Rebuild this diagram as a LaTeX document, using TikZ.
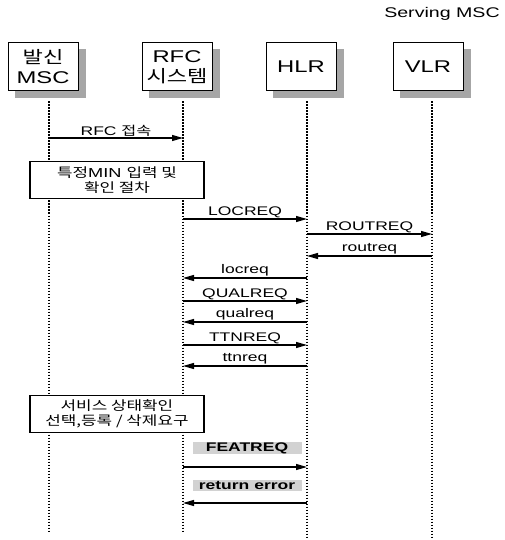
\documentclass[tikz,border=0pt]{standalone}
\usepackage{fontspec}
\setmainfont{Liberation Sans}[FakeStretch=1.4]
\newfontfamily\kr{Noto Sans CJK KR}[FakeStretch=1.3]
\usetikzlibrary{arrows.meta,backgrounds}

\tikzset{
  party/.style={draw, line width=1pt, fill=white, minimum width=70pt,
    minimum height=48pt, inner sep=1pt, align=center,
    font=\fontsize{17}{20}\selectfont},
  shade/.style={fill=gray!70},
  life/.style={line width=1.2pt, dash pattern=on 1.1pt off 1.9pt},
  msg/.style={line width=1.2pt, -{Triangle[length=11pt,width=6pt]}},
  lbl/.style={midway, above, inner sep=1pt, font=\fontsize{12.5}{13}\selectfont},
  note/.style={draw, line width=1.3pt, fill=white, minimum width=174pt,
    minimum height=37pt, align=center, inner sep=1pt,
    font=\fontsize{13}{15.5}\selectfont},
  hilite/.style={fill=gray!35, minimum width=109pt, minimum height=11pt,
    inner sep=0pt, font=\bfseries\fontsize{12.5}{12}\selectfont}
}

\begin{document}
\begin{tikzpicture}[x=1pt,y=-1pt]
\useasboundingbox (0,0) rectangle (505,540);

% Title
\node (serving) at (442,14) {\fontsize{14}{16}\selectfont Serving MSC};

% Entities
\node[party] (msc) at (43,67) {{\kr 발신}\\MSC};
\node[party] (rfc) at (177,67) {RFC\\{\kr 시스템}};
\node[party] (hlr) at (301,67) {HLR};
\node[party] (vlr) at (428,67) {VLR};

\begin{scope}[on background layer]
\foreach \n in {msc,rfc,hlr,vlr}
  \fill[shade] ([shift={(7pt,-7pt)}]\n.south west) rectangle ([shift={(7pt,-7pt)}]\n.north east);
\end{scope}

% Lifelines
\coordinate (mscEnd) at (49,531);
\coordinate (rfcEnd) at (183,531);
\coordinate (hlrEnd) at (307,539);
\coordinate (vlrEnd) at (432,539);

\draw[life] ([yshift=-10pt]msc.south -| mscEnd) -- (mscEnd);
\draw[life] ([yshift=-10pt]rfc.south -| rfcEnd) -- (rfcEnd);
\draw[life] ([yshift=-10pt]hlr.south -| hlrEnd) -- (hlrEnd);
\draw[life] ([yshift=-10pt]vlr.south -| vlrEnd) -- (vlrEnd);

% Message rows
\coordinate (m1) at (0,138);
\coordinate (m2) at (0,219);
\coordinate (m3) at (0,234);
\coordinate (m4) at (0,256);
\coordinate (m5) at (0,278);
\coordinate (m6) at (0,301);
\coordinate (m7) at (0,322);
\coordinate (m8) at (0,345);
\coordinate (m9) at (0,366);
\coordinate (m10) at (0,467);
\coordinate (m11) at (0,503);

% Messages
\draw[msg] (mscEnd |- m1) -- (rfcEnd |- m1) node[lbl] {RFC {\kr 접속}};

\node[note] (check) at (117,180) {{\kr 특정}MIN {\kr 입력 및}\\{\kr 확인 절차}};

\draw[msg] (rfcEnd |- m2) -- (hlrEnd |- m2) node[lbl] {LOCREQ};
\draw[msg] (hlrEnd |- m3) -- (vlrEnd |- m3) node[lbl] {ROUTREQ};
\draw[msg] (vlrEnd |- m4) -- (hlrEnd |- m4) node[lbl] {routreq};
\draw[msg] (hlrEnd |- m5) -- (rfcEnd |- m5) node[lbl] {locreq};
\draw[msg] (rfcEnd |- m6) -- (hlrEnd |- m6) node[lbl] {QUALREQ};
\draw[msg] (hlrEnd |- m7) -- (rfcEnd |- m7) node[lbl] {qualreq};
\draw[msg] (rfcEnd |- m8) -- (hlrEnd |- m8) node[lbl] {TTNREQ};
\draw[msg] (hlrEnd |- m9) -- (rfcEnd |- m9) node[lbl] {ttnreq};

\node[note] (service) at (117,414) {{\kr 서비스 상태확인}\\{\kr 선택,등록 / 삭제요구}};

% Feature request
\node[hilite] (feat) at (247,448) {FEATREQ};
\draw[msg] (rfcEnd |- m10) -- (hlrEnd |- m10);

\node[hilite] (err) at (247,485) {return error};
\draw[msg] (hlrEnd |- m11) -- (rfcEnd |- m11);

\end{tikzpicture}
\end{document}
